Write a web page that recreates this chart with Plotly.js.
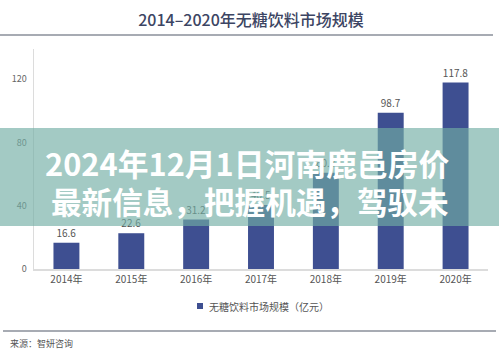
<!DOCTYPE html>
<html><head><meta charset="utf-8">
<script src="https://cdn.plot.ly/plotly-3.0.1.min.js"></script>
<style>html,body{margin:0;padding:0;background:#fff;}#c{width:499px;height:354px;}</style>
</head><body><div id="c"></div>
<script>
const categories = ["2014年","2015年","2016年","2017年","2018年","2019年","2020年"];
const values = [16.6, 22.6, 31.2, 40.5, 60.8, 98.7, 117.8];
const seriesName = "无糖饮料市场规模（亿元）";
const chartTitle = "2014–2020年无糖饮料市场规模";
const overlayLine1 = "2024年12月1日河南鹿邑房价";
const overlayLine2 = "最新信息，把握机遇，驾驭未";
const sourceText = "来源：智妍咨询";
const yTicks = [0, 40, 80, 120];

const FONT = '"Noto Sans CJK SC", "Noto Sans", sans-serif';
const W = 499, H = 354, L = 34, R = 11, T = 49, B = 85;
const pw = W - L - R, ph = H - T - B;
const px = x => (x - L) / pw;
const py = y => (H - B - y) / ph;
const barColor = 'rgb(62,79,145)';

const trace = {
  type: 'bar', x: categories, y: values, name: seriesName,
  marker: {color: barColor},
  width: 0.4,
  texttemplate: '%{y:.1f}', textposition: 'outside', cliponaxis: false,
  textfont: {family: FONT, size: 10, color: '#555'},
  hoverinfo: 'none'
};

const layout = {
  width: W, height: H,
  margin: {l: L, r: R, t: T, b: B},
  paper_bgcolor: '#fff', plot_bgcolor: '#fff',
  showlegend: false,
  font: {family: FONT},
  title: {text: chartTitle, x: 251/W, xref: 'container', xanchor: 'center',
          y: 1 - 20/H, yref: 'container', yanchor: 'middle',
          font: {family: FONT, size: 16, color: '#3c4563', weight: 500}},
  xaxis: {type: 'category', range: [-0.5, 6.5], showline: true, linecolor: '#dcdcdc', linewidth: 1.5,
          showgrid: false, ticks: '', tickfont: {family: FONT, size: 10, color: '#555'}, fixedrange: true},
  yaxis: {range: [0, 139], tickvals: yTicks, showline: true, linecolor: '#dcdcdc', linewidth: 1.5,
          showgrid: false, zeroline: false, ticks: '', ticklabelstandoff: 4,
          tickfont: {family: FONT, size: 9, color: '#666'}, fixedrange: true},
  shapes: [
    {type: 'line', xref: 'paper', yref: 'paper', x0: px(0), x1: px(493), y0: py(35), y1: py(35),
     line: {color: '#8a8f9a', width: 1.5}},
    {type: 'line', xref: 'paper', yref: 'paper', x0: px(3), x1: px(496), y0: py(331), y1: py(331),
     line: {color: '#8a8f9a', width: 1.5}},
    {type: 'rect', xref: 'paper', yref: 'paper', x0: px(197), x1: px(203), y0: py(303), y1: py(309),
     fillcolor: barColor, line: {width: 0}},
    {type: 'rect', xref: 'paper', yref: 'paper', x0: px(0), x1: px(W), y0: py(226), y1: py(128),
     fillcolor: 'rgba(114,174,165,0.65)', line: {width: 0}, layer: 'above'}
  ],
  annotations: [
    {xref: 'paper', yref: 'paper', x: px(207), y: py(306), xanchor: 'left', yanchor: 'middle',
     text: seriesName, showarrow: false, font: {family: FONT, size: 10, color: '#555'}},
    {xref: 'paper', yref: 'paper', x: px(8), y: py(343), xanchor: 'left', yanchor: 'middle',
     text: sourceText, showarrow: false, font: {family: FONT, size: 9, color: '#555'}},
    {xref: 'paper', yref: 'paper', x: px(247), y: py(162), xanchor: 'center', yanchor: 'middle',
     text: overlayLine1, showarrow: false, font: {family: FONT, size: 30.8, color: '#fff', weight: 700}},
    {xref: 'paper', yref: 'paper', x: px(250), y: py(201), xanchor: 'center', yanchor: 'middle',
     text: overlayLine2, showarrow: false, font: {family: FONT, size: 30.6, color: '#fff', weight: 700}}
  ]
};

Plotly.newPlot('c', [trace], layout, {displayModeBar: false, staticPlot: true});
</script></body></html>
